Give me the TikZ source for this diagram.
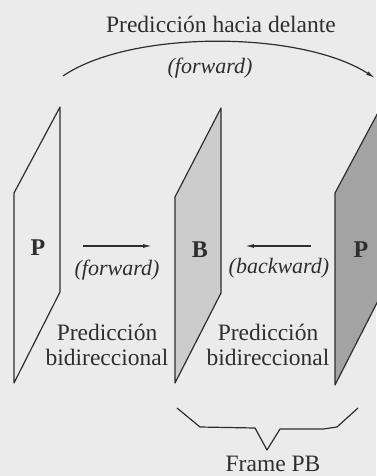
\documentclass[tikz,border=0pt]{standalone}
\usepackage{fontspec}
\setmainfont{Liberation Serif}
\usetikzlibrary{arrows.meta}

\definecolor{paper}{gray}{0.92}
\definecolor{ink}{gray}{0.18}
\definecolor{bframe}{gray}{0.80}
\definecolor{pframe}{gray}{0.64}

\begin{document}
\begin{tikzpicture}[x=1pt,y=-1pt,
  frame/.style={draw=ink,line width=1.2pt,line join=round},
  lbl/.style={font=\fontsize{23.5}{25}\selectfont,text=ink,align=center},
  dirlbl/.style={font=\fontsize{22}{23}\selectfont\itshape,text=ink},
  piclbl/.style={font=\fontsize{24}{25}\selectfont\bfseries,text=ink},
  pred/.style={ink,line width=1.2pt,-{Latex[length=9pt,width=4pt]}}]
\fill[paper] (0,0) rectangle (376,476);
\useasboundingbox (0,0) rectangle (376,476);
% the three frames, seen at a slant
\draw[frame] (14,193) -- (60,107) -- (60,292) -- (14,383) -- cycle;
\draw[frame,fill=bframe] (175,197) -- (221,108) -- (221,293) -- (175,383) -- cycle;
\draw[frame,fill=pframe] (335,193) -- (381,107) -- (381,295) -- (335,385) -- cycle;
\node[piclbl] (p1) at (38,248) {P};
\node[piclbl] (b) at (200,250) {B};
\node[piclbl] (p2) at (361,250) {P};

% forward prediction over the B frame
\node[lbl] (title) at (221,24) {Predicción hacia delante};
\coordinate (a0) at (63,76);
\coordinate (a1) at (375,78);
\draw[pred] (a0) .. controls (130,30) and (300,30) .. (a1);
\node[dirlbl] (fwtop) at (210,68) {(forward)};

% the two halves of the bidirectional prediction
\coordinate (f0) at (83,246);
\coordinate (f1) at (152,246);
\draw[pred] (f0) -- (f1);
\node[dirlbl] (fw) at (117,270) {(forward)};
\coordinate (k0) at (311,246);
\coordinate (k1) at (245,246);
\draw[pred] (k0) -- (k1);
\node[dirlbl] (bw) at (279,268) {(backward)};
\node[lbl] (bi1) at (107,345) {Predicción\\bidireccional};
\node[lbl] (bi2) at (268,345) {Predicción\\bidireccional};

% brace under B and P
\draw[ink,line width=1.2pt,line join=round] (177,408) -- (200,427) -- (255,428)
  -- (267,450) -- (280,429) -- (323,429) -- (337,427) -- (358,408);
\node[lbl,anchor=base,inner sep=1pt] (pb) at (273,471) {Frame PB};
\end{tikzpicture}
\end{document}
